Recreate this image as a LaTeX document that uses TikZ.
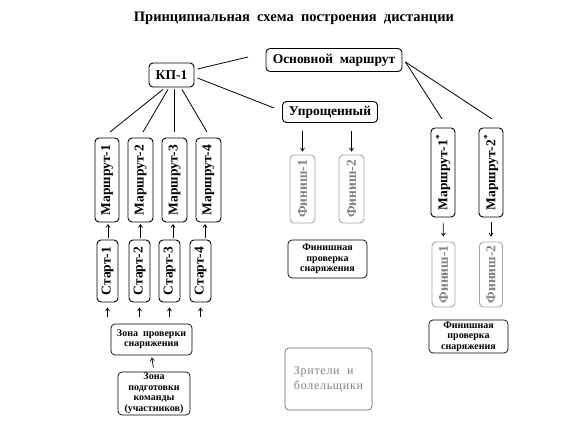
\documentclass[tikz,border=0pt]{standalone}
\usepackage{fontspec}
\setmainfont{Liberation Serif}
\newfontfamily\spaced[LetterSpace=6]{Liberation Serif}
\usepackage{graphicx}
\usetikzlibrary{arrows.meta,calc}
\newcommand\vt[1]{\rotatebox{90}{#1}}
\begin{document}
\begin{tikzpicture}[x=1pt,y=-1pt,
 box/.style={draw, rounded corners=4pt, line width=0.9pt, inner sep=0pt, align=center, font=\bfseries\fontsize{13.5}{15}\selectfont},
 gbox/.style={box, draw=gray!70, text=gray},
 small/.style={box, line width=0.7pt, font=\bfseries\fontsize{10}{10.5}\selectfont},
 arr/.style={-{Straight Barb[length=3pt,width=4pt]}, line width=0.7pt},
 ln/.style={line width=0.8pt}]
\useasboundingbox (0,0) rectangle (576,422);
\node[font=\bfseries\fontsize{14.5}{16}\selectfont] (title) at (294,18) {Принципиальная\ \ схема\ \ построения\ \ дистанции};
\node[box, minimum width=45, minimum height=24] (kp) at (171.5,75) {КП-1};
\node[box, minimum width=136, minimum height=23] (main) at (334,60) {Основной\ \ маршрут};
\node[box, minimum width=95, minimum height=21] (upr) at (330,112) {Упрощенный};
\node[box, minimum width=24, minimum height=84] (m1) at (107,180) {\vt{Маршрут-1}};
\node[box, minimum width=25, minimum height=84] (m2) at (140.5,180) {\vt{Маршрут-2}};
\node[box, minimum width=25, minimum height=84] (m3) at (174.5,180) {\vt{Маршрут-3}};
\node[box, minimum width=25, minimum height=84] (m4) at (208.5,180) {\vt{Маршрут-4}};
\node[box, minimum width=21, minimum height=62] (s1) at (107.5,271) {\vt{Старт-1}};
\node[box, minimum width=21, minimum height=62] (s2) at (139.5,271) {\vt{Старт-2}};
\node[box, minimum width=21, minimum height=62] (s3) at (169.5,271) {\vt{Старт-3}};
\node[box, minimum width=21, minimum height=62] (s4) at (200.5,271) {\vt{Старт-4}};
\node[small, minimum width=81, minimum height=31] (zp) at (151.5,339.5) {Зона\ \ проверки\\снаряжения};
\node[small, minimum width=72, minimum height=43] (zt) at (154,393.5) {Зона\\подготовки\\команды\\(участников)};
\node[gbox, minimum width=25, minimum height=68] (f1) at (302.5,189) {\vt{Финиш-1}};
\node[gbox, minimum width=25, minimum height=68] (f2) at (351.5,189) {\vt{Финиш-2}};
\node[small, minimum width=79, minimum height=38] (fp1) at (327.5,259) {Финишная\\проверка\\снаряжения};
\node[box, minimum width=24, minimum height=89] (mr1) at (443,172.5) {\vt{Маршрут-1\textsuperscript{*}}};
\node[box, minimum width=24, minimum height=89] (mr2) at (491,172.5) {\vt{Маршрут-2\textsuperscript{*}}};
\node[gbox, minimum width=23, minimum height=65] (rf1) at (443.5,274.5) {\vt{Финиш-1}};
\node[gbox, minimum width=23, minimum height=65] (rf2) at (491,274.5) {\vt{Финиш-2}};
\node[small, minimum width=79, minimum height=33] (fp2) at (468.5,336.5) {Финишная\\проверка\\снаряжения};
\node[box, draw=gray!80!black, line width=0.7pt, text=gray, align=left, font=\spaced\fontsize{12}{15}\selectfont, minimum width=87, minimum height=62] (zr) at (328.5,379) {Зрители\ \ и\\болельщики};
% free ends
\coordinate (a1) at (248,57);
\coordinate (a2) at (274,108);
\coordinate (e1) at (110,132);
\coordinate (e2) at (143,132);
\coordinate (e3) at (174,132);
\coordinate (e4) at (207,132);
\coordinate (r1) at (442,119);
\coordinate (r2) at (492,119);
% lines
\draw[ln] ($(kp.east)+(3,-6)$) -- (a1);
\draw[ln] ($(kp.east)+(3,3)$) -- (a2);
\draw[ln] ($(kp.south)+(-8.5,2)$) -- (e1);
\draw[ln] ($(kp.south)+(-3.5,2)$) -- (e2);
\draw[ln] ($(kp.south)+(2.5,2)$) -- (e3);
\draw[ln] ($(kp.south)+(10.5,2)$) -- (e4);
\draw[ln] ($(main.east)+(3,2)$) -- (r1);
\draw[ln] ($(main.east)+(3,2)$) -- (r2);
% arrows Start -> Route (vertical)
\draw[arr, shorten <=2pt, shorten >=1.5pt] ($(s1.north)+(0.5,0)$) -- ($(s1.north |- m1.south)+(0.5,0)$);
\draw[arr, shorten <=2pt, shorten >=1.5pt] (m2.south |- s2.north) -- (m2.south);
\draw[arr, shorten <=2pt, shorten >=1.5pt] ($(s3.north)+(3.5,0)$) -- ($(s3.north |- m3.south)+(3.5,0)$);
\draw[arr, shorten <=2pt, shorten >=1.5pt] ($(s4.north)+(4.5,0)$) -- ($(s4.north |- m4.south)+(4.5,0)$);
\foreach \i in {1,2,3,4}{
  \draw[arr, shorten <=7pt, shorten >=5pt] (s\i.south |- zp.north) -- (s\i.south);
}
\draw[arr, shorten <=4pt, shorten >=2pt] (zt.north) -- (zp.south);
\draw[arr, shorten <=8pt, shorten >=3pt] (upr.south -| f1.north) -- (f1.north);
\draw[arr, shorten <=8pt, shorten >=3pt] (upr.south -| f2.north) -- (f2.north);
\draw[arr, shorten <=5pt, shorten >=5pt] (mr1.south) -- (rf1.north);
\draw[arr, shorten <=5pt, shorten >=5pt] (mr2.south) -- (rf2.north);
\end{tikzpicture}
\end{document}
